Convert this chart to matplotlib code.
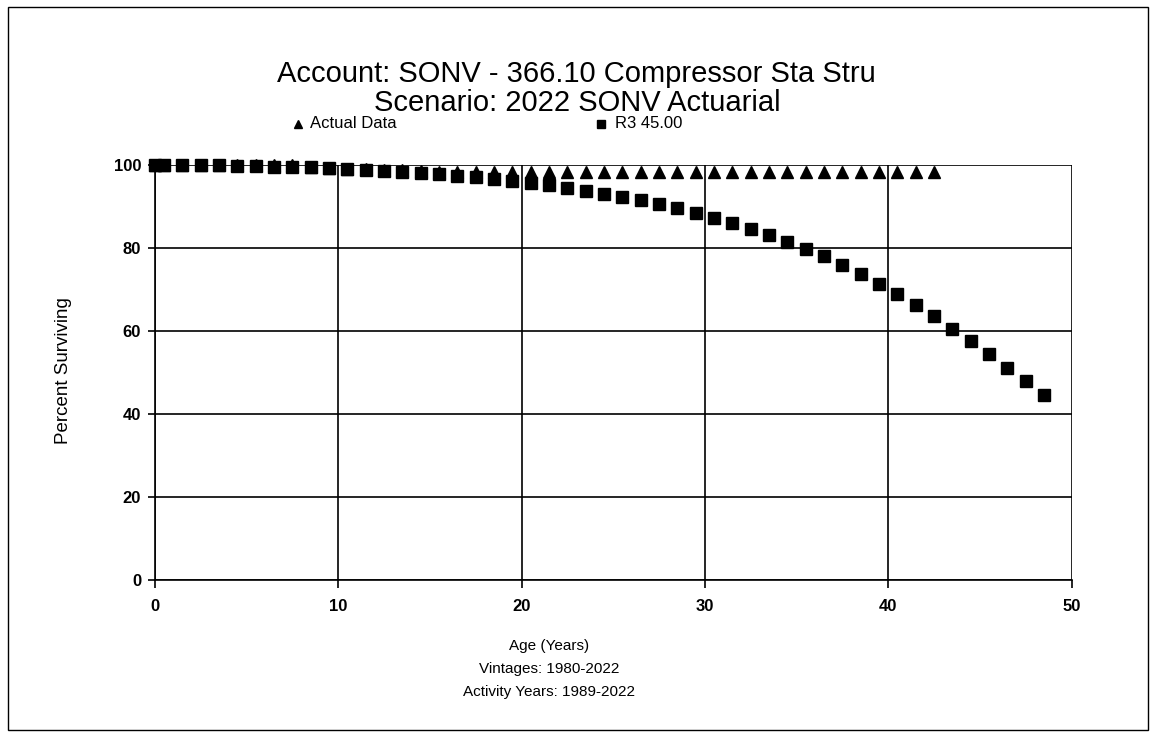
import matplotlib
matplotlib.use("Agg")
import matplotlib.pyplot as plt
from matplotlib.patches import Rectangle
from matplotlib.lines import Line2D

title_lines = ["Account: SONV - 366.10 Compressor Sta Stru", "Scenario: 2022 SONV Actuarial"]
legend_labels = ["Actual Data", "R3 45.00"]

actual_age = [0] + [i + 0.5 for i in range(43)]
actual_pct = [100, 100, 100, 100, 100, 100, 100, 100, 100,
              99.6, 99.3, 99.0, 98.9, 98.8, 98.7, 98.5] + [98.3] * 28

curve_age = [0] + [i + 0.5 for i in range(49)]
curve_pct = [100, 100, 99.95, 99.9, 99.85, 99.8, 99.7, 99.6, 99.5, 99.4,
             99.2, 99.0, 98.8, 98.6, 98.4, 98.1, 97.8, 97.4, 97.0, 96.6,
             96.1, 95.7, 95.1, 94.5, 93.8, 93.1, 92.3, 91.5, 90.6, 89.7,
             88.5, 87.3, 86.0, 84.6, 83.1, 81.3, 79.7, 78.0, 75.9, 73.6,
             71.3, 68.9, 66.2, 63.6, 60.5, 57.6, 54.5, 51.0, 48.0, 44.5]

x_ticks = [0, 10, 20, 30, 40, 50]
y_ticks = [0, 20, 40, 60, 80, 100]
x_label_lines = ["Age (Years)", "Vintages: 1980-2022", "Activity Years: 1989-2022"]
y_label = "Percent Surviving"

plt.rcParams['font.family'] = ['Liberation Sans', 'DejaVu Sans']

fig = plt.figure(figsize=(11.56, 7.36), dpi=100)
fig.patch.set_facecolor('white')
fig.add_artist(Rectangle((0.007, 0.008), 0.986, 0.982, transform=fig.transFigure,
                         fill=False, edgecolor='black', linewidth=1.0))

ax = fig.add_axes([0.134, 0.212, 0.793, 0.564])
ax.set_xlim(0, 50)
ax.set_ylim(0, 100)
ax.set_xticks(x_ticks)
ax.set_yticks(y_ticks)
ax.grid(True, color='black', linewidth=1.2)
for s in ['top', 'right']:
    ax.spines[s].set_visible(False)
for s in ['left', 'bottom']:
    ax.spines[s].set_linewidth(1.2)
ax.tick_params(axis='x', length=6, width=1.2, pad=8, labelsize=12)
ax.tick_params(axis='y', length=5, width=1.2, pad=5, labelsize=12)
for lbl in ax.get_xticklabels() + ax.get_yticklabels():
    lbl.set_fontweight('bold')

ax.plot(actual_age, actual_pct, linestyle='none', marker='^', color='black',
        markersize=8, clip_on=False, zorder=3)
ax.plot(curve_age, curve_pct, linestyle='none', marker='s', color='black',
        markersize=8.5, clip_on=False, zorder=4)

fig.text(0.499, 0.899, title_lines[0], ha='center', va='center', fontsize=21)
fig.text(0.499, 0.860, title_lines[1], ha='center', va='center', fontsize=21)

fig.add_artist(Line2D([0.258], [0.832], marker='^', color='black', markersize=6,
                      linestyle='none', transform=fig.transFigure))
fig.text(0.268, 0.832, legend_labels[0], ha='left', va='center', fontsize=12)
fig.add_artist(Line2D([0.520], [0.832], marker='s', color='black', markersize=6,
                      linestyle='none', transform=fig.transFigure))
fig.text(0.532, 0.832, legend_labels[1], ha='left', va='center', fontsize=12)

fig.text(0.055, 0.497, y_label, rotation=90, ha='center', va='center', fontsize=13.5)
for i, t in enumerate(x_label_lines):
    fig.text(0.475, 0.122 - i * 0.031, t, ha='center', va='center', fontsize=11)

fig.savefig('out.png', dpi=100, facecolor='white')
